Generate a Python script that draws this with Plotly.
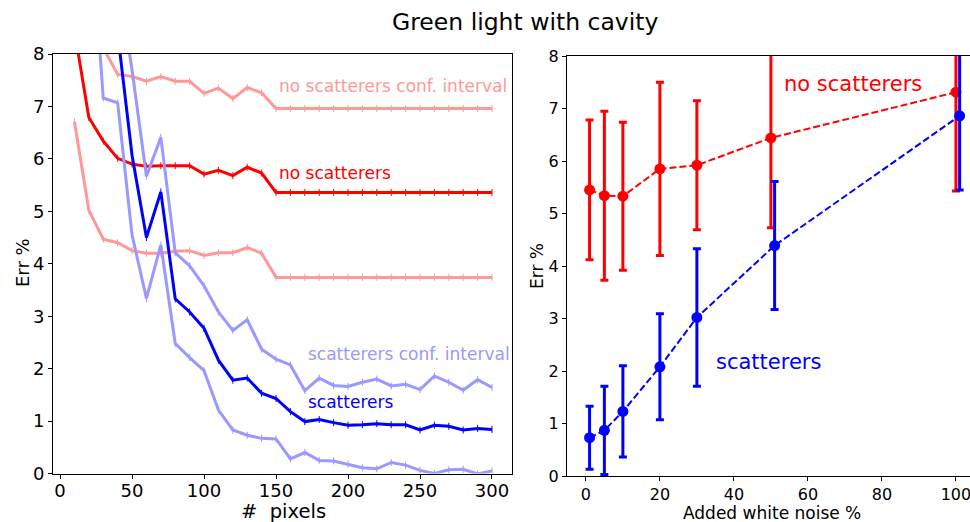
import plotly.graph_objects as go

# ---------------- data: left panel (error vs number of pixels) ----------------
pixels = list(range(10, 301, 10))
noscat_mean = [8.45, 6.79, 6.34, 6.01, 5.90, 5.86, 5.87, 5.87, 5.87, 5.71,
               5.78, 5.68, 5.84, 5.73, 5.36, 5.36, 5.36, 5.36, 5.36, 5.36,
               5.36, 5.36, 5.36, 5.36, 5.36, 5.36, 5.36, 5.36, 5.36, 5.36]
noscat_upper = [10.0, 9.0, 8.12, 7.61, 7.57, 7.48, 7.57, 7.48, 7.48, 7.25,
                7.35, 7.15, 7.36, 7.26, 6.96, 6.96, 6.96, 6.96, 6.96, 6.96,
                6.96, 6.96, 6.96, 6.96, 6.96, 6.96, 6.96, 6.96, 6.96, 6.96]
noscat_lower = [6.71, 5.02, 4.47, 4.40, 4.25, 4.20, 4.20, 4.24, 4.25, 4.16,
                4.21, 4.21, 4.31, 4.20, 3.74, 3.74, 3.74, 3.74, 3.74, 3.74,
                3.74, 3.74, 3.74, 3.74, 3.74, 3.74, 3.74, 3.74, 3.74, 3.74]
scat_mean = [11.5, 10.2, 9.2, 8.4, 6.07, 4.50, 5.37, 3.33, 3.08, 2.77,
             2.16, 1.78, 1.82, 1.53, 1.43, 1.18, 0.99, 1.03, 0.97, 0.92,
             0.93, 0.95, 0.93, 0.93, 0.83, 0.92, 0.90, 0.83, 0.86, 0.84]
scat_upper = [14.0, 12.5, 11.0, 9.5, 7.7, 5.67, 6.41, 4.21, 3.96, 3.58,
              3.08, 2.73, 2.93, 2.37, 2.18, 2.07, 1.58, 1.82, 1.68, 1.66,
              1.74, 1.80, 1.67, 1.70, 1.60, 1.86, 1.74, 1.59, 1.79, 1.64]
scat_lower = [14.0, 11.0, 7.16, 7.07, 4.55, 3.34, 4.36, 2.48, 2.21, 1.96,
              1.21, 0.83, 0.73, 0.67, 0.66, 0.28, 0.40, 0.25, 0.24, 0.18,
              0.11, 0.09, 0.21, 0.16, 0.06, 0.00, 0.07, 0.08, -0.01, 0.05]

# ---------------- data: right panel (error vs added white noise) ----------------
noise_noscat = [1, 5, 10, 20, 30, 50, 100]
err_noscat = [5.45, 5.34, 5.33, 5.85, 5.92, 6.44, 7.31]
ci_noscat = [1.33, 1.61, 1.41, 1.65, 1.23, 1.71, 1.88]
noise_scat = [1, 5, 10, 20, 30, 51, 101]
err_scat = [0.73, 0.87, 1.23, 2.08, 3.02, 4.39, 6.86]
ci_scat = [0.60, 0.84, 0.87, 1.01, 1.31, 1.22, 1.41]

left_xticks = [0, 50, 100, 150, 200, 250, 300]
right_xticks = [0, 20, 40, 60, 80, 100]
yticks = [0, 1, 2, 3, 4, 5, 6, 7, 8]

# ---------------- styling ----------------
W, H = 970, 522
def fx(p):
    return p / W
def fy(p):
    return 1 - p / H

RED = "#ff0000"
PINK = "#ff9999"
BLUE = "#0000ff"
LBLUE = "#9999ff"
FONT = "DejaVu Sans"
INK = "#000000"

fig = go.Figure()

def left_line(y, color, width):
    fig.add_trace(go.Scatter(
        x=pixels, y=y, mode="lines+markers",
        line=dict(color=color, width=width),
        marker=dict(symbol="line-ns-open", size=5,
                    line=dict(color=color, width=1)),
        xaxis="x", yaxis="y", showlegend=False, hoverinfo="skip"))

left_line(noscat_upper, PINK, 3)
left_line(noscat_lower, PINK, 3)
left_line(noscat_mean, RED, 3)
left_line(scat_upper, LBLUE, 3)
left_line(scat_lower, LBLUE, 3)
left_line(scat_mean, BLUE, 3)

def right_series(x, y, ci, color):
    fig.add_trace(go.Scatter(
        x=x, y=y, mode="lines+markers",
        line=dict(color=color, width=2, dash="7px,3px"),
        marker=dict(symbol="circle", size=11, color=color),
        error_y=dict(type="data", array=ci, visible=True, color=color,
                     thickness=3, width=4),
        xaxis="x2", yaxis="y2", showlegend=False, hoverinfo="skip"))

right_series(noise_noscat, err_noscat, ci_noscat, RED)
right_series(noise_scat, err_scat, ci_scat, BLUE)

def axis(**kw):
    base = dict(showline=True, linecolor=INK, linewidth=1, ticks="outside",
                ticklen=4, tickcolor=INK, showgrid=False, zeroline=False,
                automargin=False)
    base.update(kw)
    return base

fig.update_layout(
    width=W, height=H,
    margin=dict(l=0, r=0, t=0, b=0, pad=0, autoexpand=False),
    paper_bgcolor="white", plot_bgcolor="white", showlegend=False,
    xaxis=axis(domain=[fx(53), fx(512)], range=[-4.9, 313.9],
               tickvals=left_xticks, mirror=True, anchor="y",
               ticklabelstandoff=-3,
               tickfont=dict(family=FONT, color=INK, size=18)),
    yaxis=axis(domain=[fy(473.5), fy(54)], range=[0, 8],
               tickvals=yticks, mirror=True, anchor="x",
               tickfont=dict(family=FONT, color=INK, size=18)),
    xaxis2=axis(domain=[fx(567), 1.0], range=[-5.1, 103.8],
                tickvals=right_xticks, mirror=True, anchor="y2",
                ticklabeloverflow="allow",
                tickfont=dict(family=FONT, color=INK, size=16)),
    yaxis2=axis(domain=[fy(476), fy(56)], range=[0, 8],
                tickvals=yticks, anchor="x2",
                tickfont=dict(family=FONT, color=INK, size=16)),
)

annotations = [
    # title
    dict(text="Green light with cavity", x=fx(525), y=fy(22), xref="paper", yref="paper",
         font=dict(size=23.5, color=INK)),
    # axis titles
    dict(text="Err %", x=fx(22), y=fy(263), xref="paper", yref="paper", textangle=-90,
         font=dict(size=18, color=INK)),
    dict(text="#\u00a0 pixels", x=fx(283), y=fy(511), xref="paper", yref="paper",
         font=dict(size=19.5, color=INK)),
    dict(text="Err %", x=fx(537), y=fy(266), xref="paper", yref="paper", textangle=-90,
         font=dict(size=17, color=INK)),
    dict(text="Added white noise %", x=fx(772), y=fy(513), xref="paper", yref="paper",
         font=dict(size=17, color=INK)),
    # left panel labels
    dict(text="no scatterers conf. interval", x=150.7, y=7.39, xref="x", yref="y",
         xanchor="left", font=dict(size=17, color=PINK)),
    dict(text="no scatterers", x=150.7, y=5.73, xref="x", yref="y",
         xanchor="left", font=dict(size=17, color=RED)),
    dict(text="scatterers conf. interval", x=170.8, y=2.28, xref="x", yref="y",
         xanchor="left", font=dict(size=17, color=LBLUE)),
    dict(text="scatterers", x=170.8, y=1.36, xref="x", yref="y",
         xanchor="left", font=dict(size=17, color=BLUE)),
    # right panel labels
    dict(text="no scatterers", x=53, y=7.47, xref="x2", yref="y2",
         xanchor="left", font=dict(size=21, color=RED)),
    dict(text="scatterers", x=34.6, y=2.17, xref="x2", yref="y2",
         xanchor="left", font=dict(size=21, color=BLUE)),
]
for a in annotations:
    a.setdefault("showarrow", False)
    a.setdefault("xanchor", "center")
    a.setdefault("yanchor", "middle")
    a["font"]["family"] = FONT
fig.update_layout(annotations=annotations)

fig.write_html("out.html")
